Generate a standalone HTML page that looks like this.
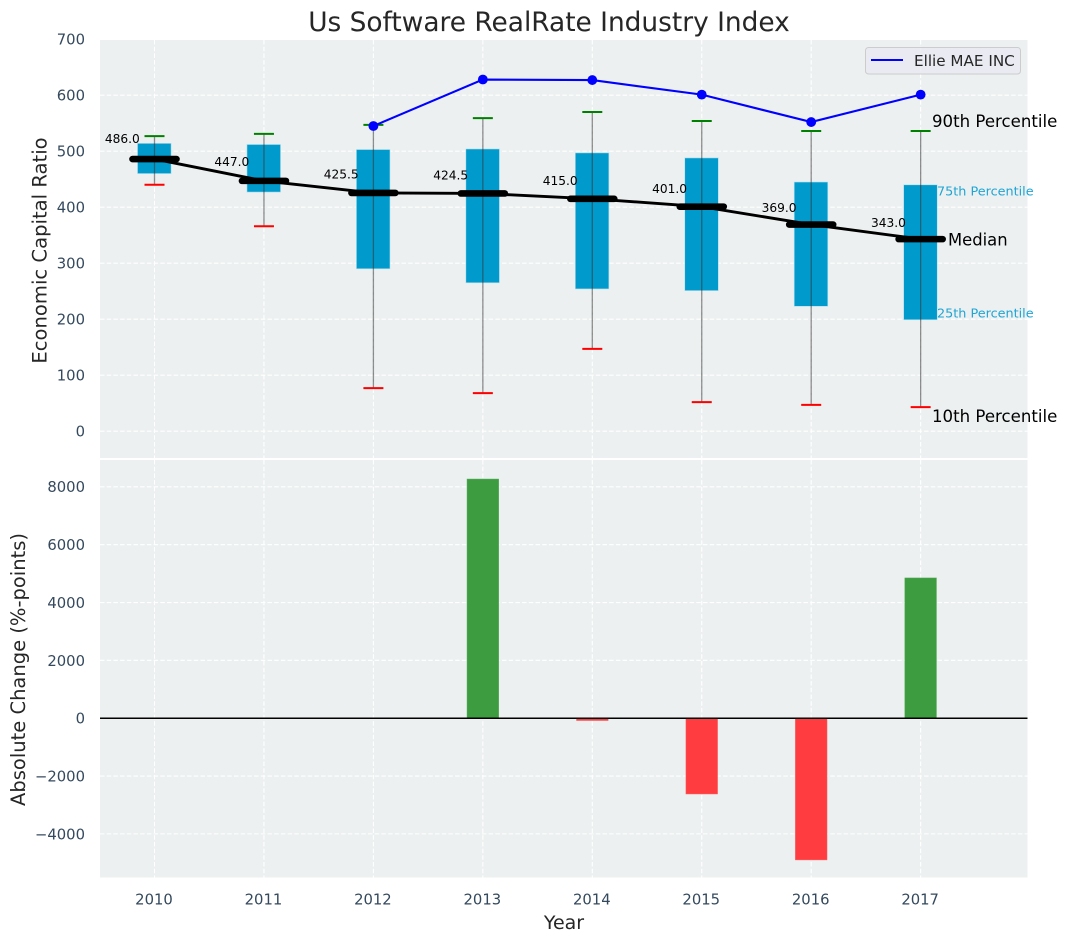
<!DOCTYPE html>
<html>
<head>
<meta charset="utf-8">
<title>Us Software RealRate Industry Index</title>
<style>
html,body{margin:0;padding:0;background:#fff;}
svg{display:block;}
text{font-family:"DejaVu Sans","Liberation Sans",sans-serif;}
</style>
</head>
<body>
<svg id="chart" xmlns="http://www.w3.org/2000/svg" width="1067" height="942" viewBox="0 0 1067 942"></svg>
<script>
const years = [2010, 2011, 2012, 2013, 2014, 2015, 2016, 2017];
const medians = [486.0, 447.0, 425.5, 424.5, 415.0, 401.0, 369.0, 343.0];
const p75 = [514, 512, 503, 504, 497, 488, 445, 440];
const p25 = [460, 427, 290, 265, 254, 251, 223, 199];
const p90 = [527, 531, 547, 559, 570, 554, 536, 536];
const p10 = [440, 366, 77, 68, 147, 52, 47, 43];
const companyYears = [2012, 2013, 2014, 2015, 2016, 2017];
const companyValues = [545, 628, 627, 601, 552, 601];
const changeYears = [2013, 2014, 2015, 2016, 2017];
const changeValues = [8270, -80, -2620, -4900, 4850];
const topTicks = [0, 100, 200, 300, 400, 500, 600, 700];
const bottomTicks = [-4000, -2000, 0, 2000, 4000, 6000, 8000];

const NS = 'http://www.w3.org/2000/svg';
const svg = document.getElementById('chart');
const LEFT = 100, RIGHT = 1027.5;
const TOP1 = 40, BOT1 = 458, TOP2 = 460, BOT2 = 877.5;
const TEXT_DARK = '#262626', TICK = '#34495e', CYAN = '#1fa5d3';

function xPos(year) { return 154.5 + (year - 2010) * 109.45; }
function yTop(v) { return 431.2 - v * 0.5600; }
function yBottom(v) { return 718.2 - v * 0.02892; }

function make(tag, props, text) {
  const el = document.createElementNS(NS, tag);
  for (const k in props) el.setAttribute(k, props[k]);
  if (text !== undefined) el.textContent = text;
  svg.appendChild(el);
  return el;
}

function drawGrid(top, bottom, ticks, yFn, panel) {
  const bg = make('rect', {x: LEFT, y: top, width: RIGHT - LEFT, height: bottom - top, fill: '#ecf0f1'});
  
  
  ticks.forEach(function (t) {
    const g = make('line', {x1: LEFT, x2: RIGHT, y1: yFn(t), y2: yFn(t), stroke: '#ffffff', 'stroke-width': 1.1, 'stroke-dasharray': '4.5 2.2'});
    
    
    const lab = make('text', {x: 85, y: yFn(t) + 5.4, 'text-anchor': 'end', 'font-size': 14.8, fill: TICK}, String(t).replace('-', '\u2212'));
    
    
  });
  years.forEach(function (yr) {
    const g = make('line', {x1: xPos(yr), x2: xPos(yr), y1: top, y2: bottom, stroke: '#ffffff', 'stroke-width': 1.1, 'stroke-dasharray': '4.5 2.2'});
    
    
  });
}

drawGrid(TOP1, BOT1, topTicks, yTop, 'top');
drawGrid(TOP2, BOT2, bottomTicks, yBottom, 'bottom');

/* boxes */
years.forEach(function (yr, i) {
  const box = make('rect', {x: xPos(yr) - 17, y: yTop(p75[i]), width: 33.6, height: yTop(p25[i]) - yTop(p75[i]), fill: '#009bcc', stroke: '#b5e0ee', 'stroke-width': 0.6});
  
  
});

/* whiskers and caps */
years.forEach(function (yr, i) {
  const w = make('line', {x1: xPos(yr), x2: xPos(yr), y1: yTop(p90[i]), y2: yTop(p10[i]), stroke: '#333333', 'stroke-opacity': 0.55, 'stroke-width': 1.3});
  
  
  const hi = make('line', {x1: xPos(yr) - 10, x2: xPos(yr) + 10, y1: yTop(p90[i]), y2: yTop(p90[i]), stroke: '#008000', 'stroke-width': 2});
  
  
  const lo = make('line', {x1: xPos(yr) - 10, x2: xPos(yr) + 10, y1: yTop(p10[i]), y2: yTop(p10[i]), stroke: '#ff0000', 'stroke-width': 2});
  
  
});

/* median line */
const medianLine = make('polyline', {points: years.map(function (yr, i) { return xPos(yr) + ',' + yTop(medians[i]); }).join(' '), fill: 'none', stroke: '#000000', 'stroke-width': 2.9});



years.forEach(function (yr, i) {
  const m = make('line', {x1: xPos(yr) - 22, x2: xPos(yr) + 22, y1: yTop(medians[i]), y2: yTop(medians[i]), stroke: '#000000', 'stroke-width': 6.6, 'stroke-linecap': 'round'});
  
  
  const lab = make('text', {x: xPos(yr) - 14.7, y: yTop(medians[i] * 1.05 + 12) + 4.4, 'text-anchor': 'end', 'font-size': 12.2, fill: '#000000'}, medians[i].toFixed(1));
  
  
});

/* company line */
const companyLine = make('polyline', {points: companyYears.map(function (yr, i) { return xPos(yr) + ',' + yTop(companyValues[i]); }).join(' '), fill: 'none', stroke: '#0000ff', 'stroke-width': 2.1});


companyYears.forEach(function (yr, i) {
  const c = make('circle', {cx: xPos(yr), cy: yTop(companyValues[i]), r: 4.9, fill: '#0000ff'});
  
  
});

/* annotations */
const a90 = make('text', {x: 932, y: 127, 'font-size': 16.6, fill: '#000000'}, '90th Percentile');


const a75 = make('text', {x: 937, y: 195.5, 'font-size': 12.8, fill: CYAN}, '75th Percentile');


const aMed = make('text', {x: 948, y: 245.3, 'font-size': 16.4, fill: '#000000'}, 'Median');


const a25 = make('text', {x: 937, y: 317.5, 'font-size': 12.8, fill: CYAN}, '25th Percentile');


const a10 = make('text', {x: 932, y: 422, 'font-size': 16.6, fill: '#000000'}, '10th Percentile');



/* legend */
const legendBox = make('rect', {x: 865.5, y: 47.5, width: 155, height: 26.5, rx: 3, fill: '#eaeaf2', 'fill-opacity': 0.85, stroke: '#cccccc', 'stroke-width': 1});


const legendLine = make('line', {x1: 871, x2: 903, y1: 60, y2: 60, stroke: '#0000ff', 'stroke-width': 2});


const legendText = make('text', {x: 914, y: 66, 'font-size': 15.2, fill: TEXT_DARK}, 'Ellie MAE INC');



/* change bars */
changeYears.forEach(function (yr, i) {
  const v = changeValues[i];
  const bar = make('rect', {x: xPos(yr) - 15.8, y: Math.min(yBottom(v), yBottom(0)), width: 31.6, height: Math.abs(yBottom(v) - yBottom(0)), fill: v >= 0 ? '#3c9c3f' : '#ff3d40', stroke: v >= 0 ? '#55ad58' : '#ff5a5c', 'stroke-width': 0.5});
  
  
});
const zero = make('line', {x1: LEFT, x2: RIGHT, y1: yBottom(0), y2: yBottom(0), stroke: '#000000', 'stroke-width': 1.5});



/* x tick labels */
years.forEach(function (yr) {
  const t = make('text', {x: xPos(yr) - 0.5, y: 904.5, 'text-anchor': 'middle', 'font-size': 14.8, fill: TICK}, String(yr));
  
  
});

/* titles */
const title = make('text', {x: 549, y: 31, 'text-anchor': 'middle', 'font-size': 26.4, fill: TEXT_DARK}, 'Us Software RealRate Industry Index');


const yTitleTop = make('text', {transform: 'translate(46.5,250.5) rotate(-90)', 'text-anchor': 'middle', 'font-size': 19.6, fill: TEXT_DARK}, 'Economic Capital Ratio');


const yTitleBottom = make('text', {transform: 'translate(25,669.5) rotate(-90)', 'text-anchor': 'middle', 'font-size': 19.5, fill: TEXT_DARK}, 'Absolute Change (%-points)');


const xTitle = make('text', {x: 564, y: 929, 'text-anchor': 'middle', 'font-size': 19, fill: TEXT_DARK}, 'Year');


</script>
</body>
</html>
